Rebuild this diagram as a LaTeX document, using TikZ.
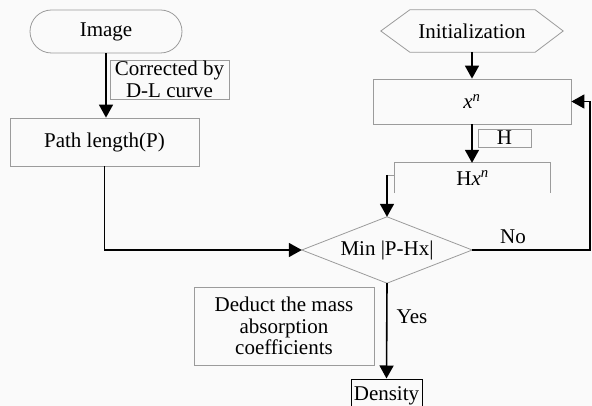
\documentclass[tikz,border=0pt]{standalone}
\usepackage{fontspec}
\setmainfont{Liberation Serif}
\usetikzlibrary{arrows.meta}
\definecolor{bgc}{RGB}{250,250,250}
\definecolor{boxc}{RGB}{155,155,155}
\begin{document}
\begin{tikzpicture}[x=1pt,y=-1pt,
 every node/.style={font=\fontsize{21}{21.5}\selectfont, inner sep=0pt},
 box/.style={draw=boxc, line width=0.8pt},
 conn/.style={line width=1.6pt, -{Triangle[width=14pt,length=13pt]}}]
\fill[bgc] (0,0) rectangle (592,406);
\useasboundingbox (0,0) rectangle (592,406);
% left column
\node[box, rounded corners=21.5pt, minimum width=152pt, minimum height=43pt] (img) at (106,31.5) {Image};
\node[box, minimum width=119pt, minimum height=39pt, align=center] (corr) at (169.5,79.5) {Corrected by\\D-L curve};
\node[box, minimum width=189pt, minimum height=48pt] (path) at (104.5,142) {Path length(P)};
% right column
\node[minimum width=182pt, minimum height=42pt] (init) at (472,31) {Initialization};
\draw[box] (init.west) -- ([xshift=29pt]init.north west) -- ([xshift=-28pt]init.north east) -- (init.east) -- ([xshift=-28pt]init.south east) -- ([xshift=29pt]init.south west) -- cycle;
\node[box, minimum width=198pt, minimum height=45pt] (xn) at (472,101.5) {\textit{x}\textsuperscript{\textit{n}}};
\node[box, minimum width=53pt, minimum height=18pt] (H) at (504.5,138) {H};
\node[minimum width=155pt, minimum height=30pt] (hx) at (472.5,178) {H\textit{x}\textsuperscript{\textit{n}}};
\draw[box] (hx.south west) -- (hx.north west) -- (hx.north east) -- (hx.south east);
\coordinate (hxo) at (387,175);
\draw[box] (hxo) -- (hxo -| hx.west);
% decision
\node[minimum width=170pt, minimum height=66pt] (dec) at (387,250) {Min |P-Hx|};
\draw[box] (dec.west) -- (dec.north) -- (dec.east) -- (dec.south) -- cycle;
\node[box, minimum width=180pt, minimum height=78pt, align=center] (ded) at (284,326) {Deduct the mass\\absorption\\coefficients};
\node[draw=black, line width=1pt, minimum width=71pt, minimum height=34pt] (den) at (386.5,396) {Density};
% connectors
\draw[conn] (img.south) -- (img.south |- path.north);
\draw[conn] (init) -- (xn);
\draw[conn] (xn.south) -- (xn.south |- hx.north);
\draw[conn] (path.south) |- (dec.west);
\draw[conn] (hxo) -- (dec.north);
\draw[conn] (dec.south) -- (den.north);
\coordinate (rc) at (590,250);
\draw[conn] (dec.east) -- (rc) |- (xn.east);
\node (no) at (513,237) {No};
\node (yes) at (412,317) {Yes};
\end{tikzpicture}
\end{document}
